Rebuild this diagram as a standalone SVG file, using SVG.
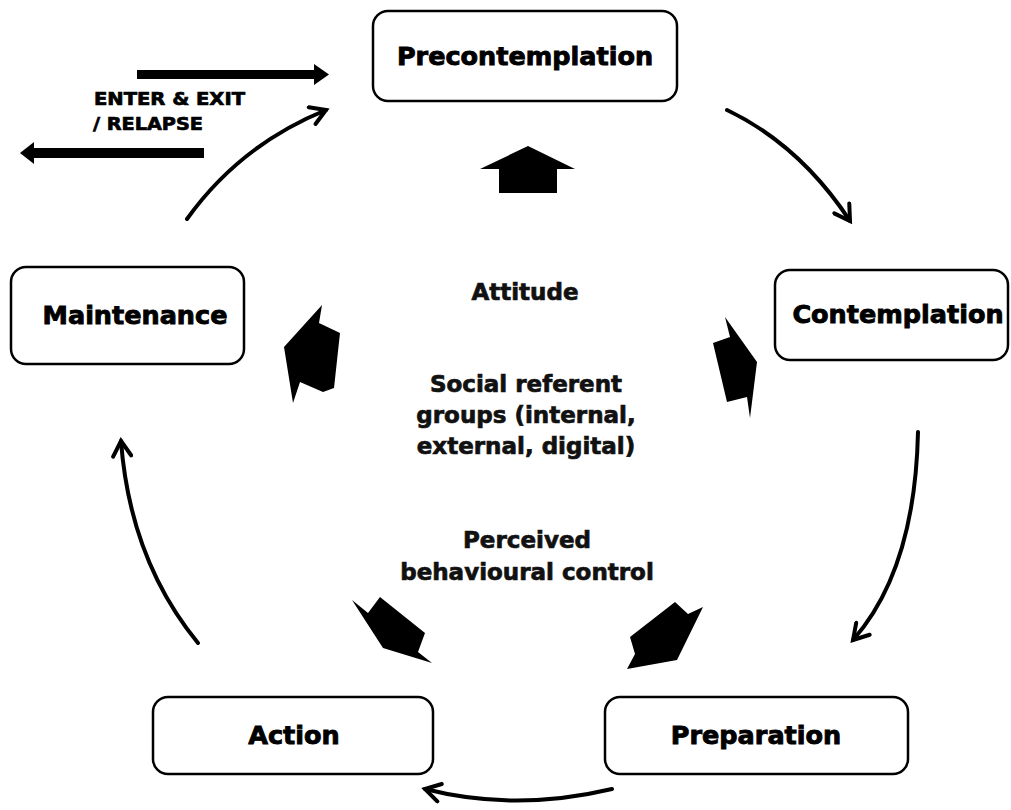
<svg xmlns="http://www.w3.org/2000/svg" width="1011" height="810" viewBox="0 0 1011 810">
<style>
.box{fill:#fff;stroke:#000;stroke-width:2.5}
.lbl{font-family:"DejaVu Sans",sans-serif;font-weight:bold;font-size:25.5px;fill:#000;stroke:#000;stroke-width:0.9;text-anchor:middle}
.mid{font-family:"DejaVu Sans",sans-serif;font-weight:bold;font-size:23px;fill:#111;stroke:#111;stroke-width:0.7;text-anchor:middle}
.small{font-family:"DejaVu Sans",sans-serif;font-weight:bold;font-size:17.5px;fill:#000;stroke:#000;stroke-width:0.7}
.curve{fill:none;stroke:#000;stroke-width:4;stroke-linecap:round}
.blk{fill:#000}
</style>
<defs>
<marker id="chev" viewBox="0 0 22 22" refX="18" refY="11" markerWidth="22" markerHeight="22" markerUnits="userSpaceOnUse" orient="auto">
<path d="M3,2 L18,11 L3,20" fill="none" stroke="#000" stroke-width="4" stroke-linecap="round" stroke-linejoin="miter"/>
</marker>
</defs>
<rect width="1011" height="810" fill="#fff"/>
<g id="connectors">
<path class="curve" d="M187,219 Q240,145 326,110" marker-end="url(#chev)"/>
<path class="curve" d="M727,110 Q800,145 850,221" marker-end="url(#chev)"/>
<path class="curve" d="M918,432 Q915,570 853,640" marker-end="url(#chev)"/>
<path class="curve" d="M612,789 Q515,812 425,789" marker-end="url(#chev)"/>
<path class="curve" d="M198,643 Q130,560 121,441" marker-end="url(#chev)"/>
<rect class="blk" x="137" y="70" width="180" height="9"/>
<polygon class="blk" points="314,64 329,74.5 314,85"/>
<rect class="blk" x="32" y="148" width="172" height="10"/>
<polygon class="blk" points="20,153 34,142 34,164"/>
<polygon class="blk" points="528,146 575,169 557,169 557,193 499,193 499,169 480,169"/>
<polygon class="blk" points="322,305 319,323 340,333 334,388 323,392 300,382 293,403 284,347"/>
<polygon class="blk" points="725,317 757,362 750,418 747,397 727,402 713,343 730,337"/>
<polygon class="blk" points="352,600 368,613 380,597 425,633 418,652 432,663 383,648"/>
<polygon class="blk" points="675,602 688,614 703,607 677,660 627,669 635,654 630,637"/>
</g>
<g id="precontemplation">
<rect class="box" x="373" y="11" width="304" height="90" rx="15"/>
<text class="lbl" x="525" y="65">Precontemplation</text>
</g>
<g id="contemplation">
<rect class="box" x="775" y="270" width="233" height="90" rx="15"/>
<text class="lbl" x="898" y="323">Contemplation</text>
</g>
<g id="maintenance">
<rect class="box" x="11" y="267" width="233" height="97" rx="15"/>
<text class="lbl" x="135" y="324">Maintenance</text>
</g>
<g id="action">
<rect class="box" x="153" y="697" width="280" height="77" rx="15"/>
<text class="lbl" x="294" y="744">Action</text>
</g>
<g id="preparation">
<rect class="box" x="605" y="697" width="303" height="77" rx="15"/>
<text class="lbl" x="756" y="744">Preparation</text>
</g>
<g id="labels">
<text class="small" x="94" y="105" textLength="151" lengthAdjust="spacingAndGlyphs">ENTER &amp; EXIT</text>
<text class="small" x="93" y="130" textLength="110" lengthAdjust="spacingAndGlyphs">/ RELAPSE</text>
<text class="mid" x="525" y="300">Attitude</text>
<text class="mid" x="526" y="392">Social referent</text>
<text class="mid" x="526" y="423">groups (internal,</text>
<text class="mid" x="526" y="454">external, digital)</text>
<text class="mid" x="527" y="548">Perceived</text>
<text class="mid" x="527" y="580">behavioural control</text>
</g>
</svg>
